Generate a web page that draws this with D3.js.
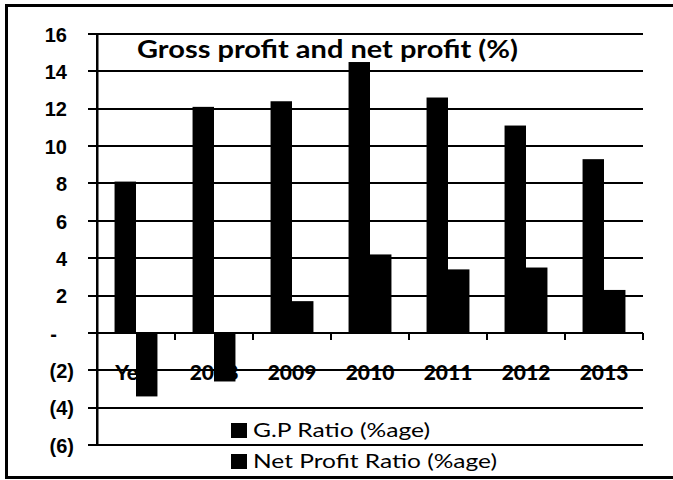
<!DOCTYPE html>
<html>
<head>
<meta charset="utf-8">
<script src="https://cdn.jsdelivr.net/npm/d3@7"></script>
<style>
  body { margin: 0; background: #fff; }
  svg { display: block; font-family: Lato, "Open Sans", sans-serif; }
</style>
</head>
<body>
<div id="chart"></div>
<script>
// chart values
const categories = ["Year", "2008", "2009", "2010", "2011", "2012", "2013"]
const gpRatio = [8.1, 12.1, 12.4, 14.5, 12.6, 11.1, 9.3]
const netProfitRatio = [-3.4, -2.6, 1.7, 4.2, 3.4, 3.5, 2.3]
const yTicks = [16, 14, 12, 10, 8, 6, 4, 2, 0, -2, -4, -6]
const seriesNames = ["G.P Ratio (%age)", "Net Profit Ratio (%age)"]

const width = 673
const height = 480
const plot = { left: 97, right: 643, top: 34, bottom: 445 }

function drawChart() {
  const svg = d3.select("#chart")
    .append("svg")
      .attr("width", width)
      .attr("height", height)

  // outer frame (right edge is cut off in the scan)
  svg.append("rect").attr("x", 5).attr("y", 4).attr("width", width - 5).attr("height", 3).attr("fill", "#000")
  svg.append("rect").attr("x", 5).attr("y", 4).attr("width", 3).attr("height", 475).attr("fill", "#000")
  svg.append("rect").attr("x", 5).attr("y", 476).attr("width", width - 5).attr("height", 3).attr("fill", "#000")

  const y = d3.scaleLinear()
    .domain([-6, 16])
    .range([plot.bottom, plot.top])

  const x = d3.scaleBand()
    .domain(categories)
    .range([plot.left, plot.right])
    .paddingInner(0.45)
    .paddingOuter(0.225)

  const xSub = d3.scaleBand()
    .domain([0, 1])
    .range([0, x.bandwidth()])

  // gridlines (they also make the outer ticks on the left)
  svg.append("g")
    .attr("class", "grid")
    .selectAll("rect")
    .data(yTicks)
    .enter().append("rect")
      .attr("x", 88)
      .attr("width", plot.right - 88)
      .attr("y", d => Math.round(y(d)) - 1)
      .attr("height", 2)
      .attr("fill", "#000")

  // y labels via axis, accounting style: 0 -> "-", negatives in brackets
  const yAxis = svg.append("g")
    .attr("class", "yAxisInfo")
    .attr("transform", "translate(74,0)")
    .call(d3.axisLeft(y)
      .tickValues(yTicks)
      .tickSize(0)
      .tickPadding(0)
      .tickFormat(d => d > 0 ? d : d === 0 ? "-" : "(" + (-d) + ")"))
  yAxis.select(".domain").remove()
  yAxis.selectAll(".tick text")
    .attr("fill", "#000")
    .style("font-size", "20px")
    .style("font-weight", "900")
    .attr("dx", d => d > 0 ? -7 : d === 0 ? -17 : 0)
    .attr("dy", "0.36em")

  // vertical axis line
  svg.append("rect")
    .attr("x", plot.left - 1)
    .attr("width", 2.5)
    .attr("y", plot.top - 1)
    .attr("height", plot.bottom - plot.top + 2)
    .attr("fill", "#000")

  // category labels
  svg.append("g")
    .selectAll("text")
    .data(categories)
    .enter().append("text")
      .attr("x", d => x(d) + x.bandwidth() / 2)
      .attr("y", 380)
      .attr("text-anchor", "middle")
      .style("font-size", "21px")
      .style("font-weight", "900")
      .text(d => d)

  // category ticks under the zero line
  svg.append("g")
    .selectAll("rect")
    .data(categories)
    .enter().append("rect")
      .attr("x", d => x(d) + x.step() / 2 + x.bandwidth() / 2 - 1)
      .attr("width", 2)
      .attr("y", Math.round(y(0)))
      .attr("height", 7)
      .attr("fill", "#000")

  // bars
  const series = [gpRatio, netProfitRatio]
  series.forEach((values, s) => {
    svg.append("g")
      .selectAll("rect")
      .data(values)
      .enter().append("rect")
        .attr("x", (d, i) => x(categories[i]) + xSub(s))
        .attr("width", xSub.bandwidth())
        .attr("y", d => y(Math.max(0, d)))
        .attr("height", d => Math.abs(y(d) - y(0)))
        .attr("fill", "#000")
  })

  // title
  svg.append("text")
    .attr("x", 137)
    .attr("y", 58)
    .attr("textLength", 381)
    .attr("lengthAdjust", "spacingAndGlyphs")
    .style("font-size", "25px")
    .style("font-weight", "bold")
    .text("Gross profit and net profit (%)")

  // legend
  const legend = svg.append("g")
    .selectAll("g")
    .data(seriesNames)
    .enter().append("g")
      .attr("transform", (d, i) => "translate(231," + (423 + i * 31) + ")")
  legend.append("rect")
    .attr("width", 16)
    .attr("height", 15)
    .attr("fill", "#000")
  legend.append("text")
    .attr("x", 22)
    .attr("y", 14)
    .attr("textLength", (d, i) => i === 0 ? 177 : 244)
    .attr("lengthAdjust", "spacingAndGlyphs")
    .style("font-size", "19px")
    .text(d => d)
}

drawChart()
</script>
</body>
</html>
